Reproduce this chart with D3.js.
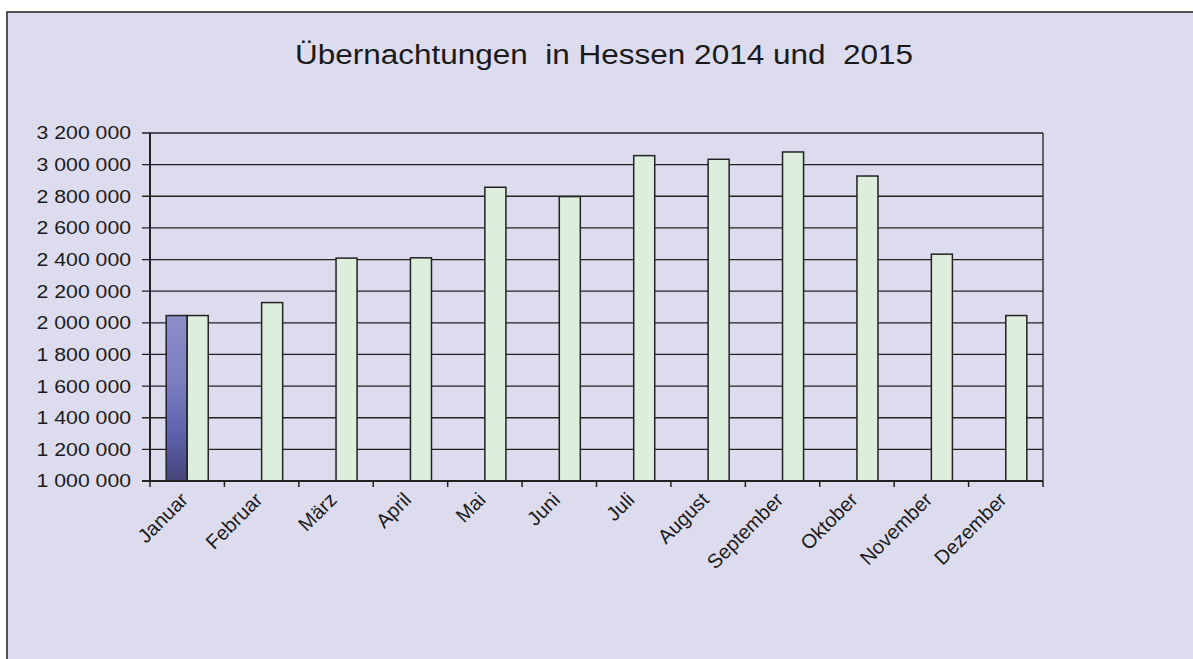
<!DOCTYPE html>
<html>
<head>
<meta charset="utf-8">
<script src="https://cdn.jsdelivr.net/npm/d3@7"></script>
<style>
  body { margin: 0; background: #fff; overflow: hidden; }
  text { font-family: "Liberation Sans", Arial, sans-serif; fill: #1a1a1a; }
</style>
</head>
<body>
<div id="container"></div>
<script>
// Data
const months = ["Januar", "Februar", "März", "April", "Mai", "Juni",
    "Juli", "August", "September", "Oktober", "November", "Dezember"];
const series = ["2015", "2014"];
const values2015 = [2046000, null, null, null, null, null, null, null, null, null, null, null];
const values2014 = [2046000, 2128000, 2409000, 2411000, 2857000, 2798000,
    3057000, 3034000, 3080000, 2928000, 2434000, 2046000];
const yTicks = [1000000, 1200000, 1400000, 1600000, 1800000, 2000000,
    2200000, 2400000, 2600000, 2800000, 3000000, 3200000];
const title = "Übernachtungen  in Hessen 2014 und  2015";

const width = 1193;
const height = 659;

const locale = d3.formatLocale({ decimal: ",", thousands: " ", grouping: [3], currency: ["", " €"] });
const fmt = locale.format(",");

const svg = d3.select("#container").append("svg")
    .attr("width", width)
    .attr("height", height)
    .style("display", "block");

// chart background + border (only left/top edges visible)
svg.append("rect")
    .attr("x", 7).attr("y", 12)
    .attr("width", width + 50).attr("height", height + 50)
    .attr("fill", "#dddcee")
    .attr("stroke", "#222")
    .attr("stroke-width", 1.5);

svg.append("text")
    .attr("x", 604)
    .attr("y", 64)
    .attr("text-anchor", "middle")
    .attr("font-size", 28)
    .style("white-space", "pre")
    .attr("transform", "translate(604,0) scale(1.125,1) translate(-604,0)")
    .text(title);

const x = d3.scaleBand()
    .domain(months)
    .range([150, 1043]);

const x1 = d3.scaleBand()
    .domain(series)
    .range([0, x.bandwidth()])
    .paddingOuter(0.77);

const y = d3.scaleLinear()
    .domain([1000000, 3200000])
    .range([481, 133]);

// gridlines
svg.append("g")
    .selectAll("line")
    .data(yTicks)
    .join("line")
    .attr("x1", 142)
    .attr("x2", 1043)
    .attr("y1", d => y(d))
    .attr("y2", d => y(d))
    .attr("stroke", "#222")
    .attr("stroke-width", 1.3);

// right border of plot
svg.append("line")
    .attr("x1", 1043).attr("x2", 1043)
    .attr("y1", y(3200000)).attr("y2", y(1000000))
    .attr("stroke", "#222").attr("stroke-width", 1.3);

// y labels
svg.append("g")
    .selectAll("text")
    .data(yTicks)
    .join("text")
    .attr("x", 131)
    .attr("y", d => y(d))
    .attr("dy", "0.36em")
    .attr("text-anchor", "end")
    .attr("font-size", 18)
    .attr("transform", "translate(131,0) scale(1.18,1) translate(-131,0)")
    .text(d => fmt(d));

// bars
const rows = months.map((m, i) => ({ month: m, vals: [
    { key: "2015", value: values2015[i] },
    { key: "2014", value: values2014[i] }
]}));

const defs = svg.append("defs");
const grad = defs.append("linearGradient")
    .attr("id", "blueGrad")
    .attr("x1", 0).attr("y1", 0).attr("x2", 0).attr("y2", 1);
grad.append("stop").attr("offset", "0%").attr("stop-color", "#8c8fc9");
grad.append("stop").attr("offset", "40%").attr("stop-color", "#7a7ebf");
grad.append("stop").attr("offset", "70%").attr("stop-color", "#5d63ad");
grad.append("stop").attr("offset", "100%").attr("stop-color", "#46467a");

const colors = { "2015": "url(#blueGrad)", "2014": "#ddeedc" };

svg.append("g")
    .selectAll("g")
    .data(rows)
    .join("g")
    .attr("transform", d => `translate(${x(d.month)},0)`)
    .selectAll("rect")
    .data(d => d.vals.filter(v => v.value != null))
    .join("rect")
    .attr("x", d => x1(d.key))
    .attr("width", x1.bandwidth())
    .attr("y", d => y(d.value))
    .attr("height", d => y(1000000) - y(d.value))
    .attr("fill", d => colors[d.key])
    .attr("stroke", "#222")
    .attr("stroke-width", 1.5);

// axes lines
svg.append("line")
    .attr("x1", 150).attr("x2", 150)
    .attr("y1", y(3200000)).attr("y2", y(1000000))
    .attr("stroke", "#222").attr("stroke-width", 2);
svg.append("line")
    .attr("x1", 142).attr("x2", 1043)
    .attr("y1", y(1000000)).attr("y2", y(1000000))
    .attr("stroke", "#222").attr("stroke-width", 2);

// x tick marks at category boundaries
const bounds = months.map(m => x(m)).concat([x.range()[1]]);
svg.append("g")
    .selectAll("line")
    .data(bounds)
    .join("line")
    .attr("x1", d => d).attr("x2", d => d)
    .attr("y1", y(1000000)).attr("y2", y(1000000) + 6)
    .attr("stroke", "#222").attr("stroke-width", 1.5);

// month labels
svg.append("g")
    .selectAll("text")
    .data(months)
    .join("text")
    .attr("transform", d => `translate(${x(d) + x.bandwidth() / 2 + 2},${y(1000000) + 20}) rotate(-45)`)
    .attr("text-anchor", "end")
    .attr("font-size", 20)
    .text(d => d);
</script>
</body>
</html>
